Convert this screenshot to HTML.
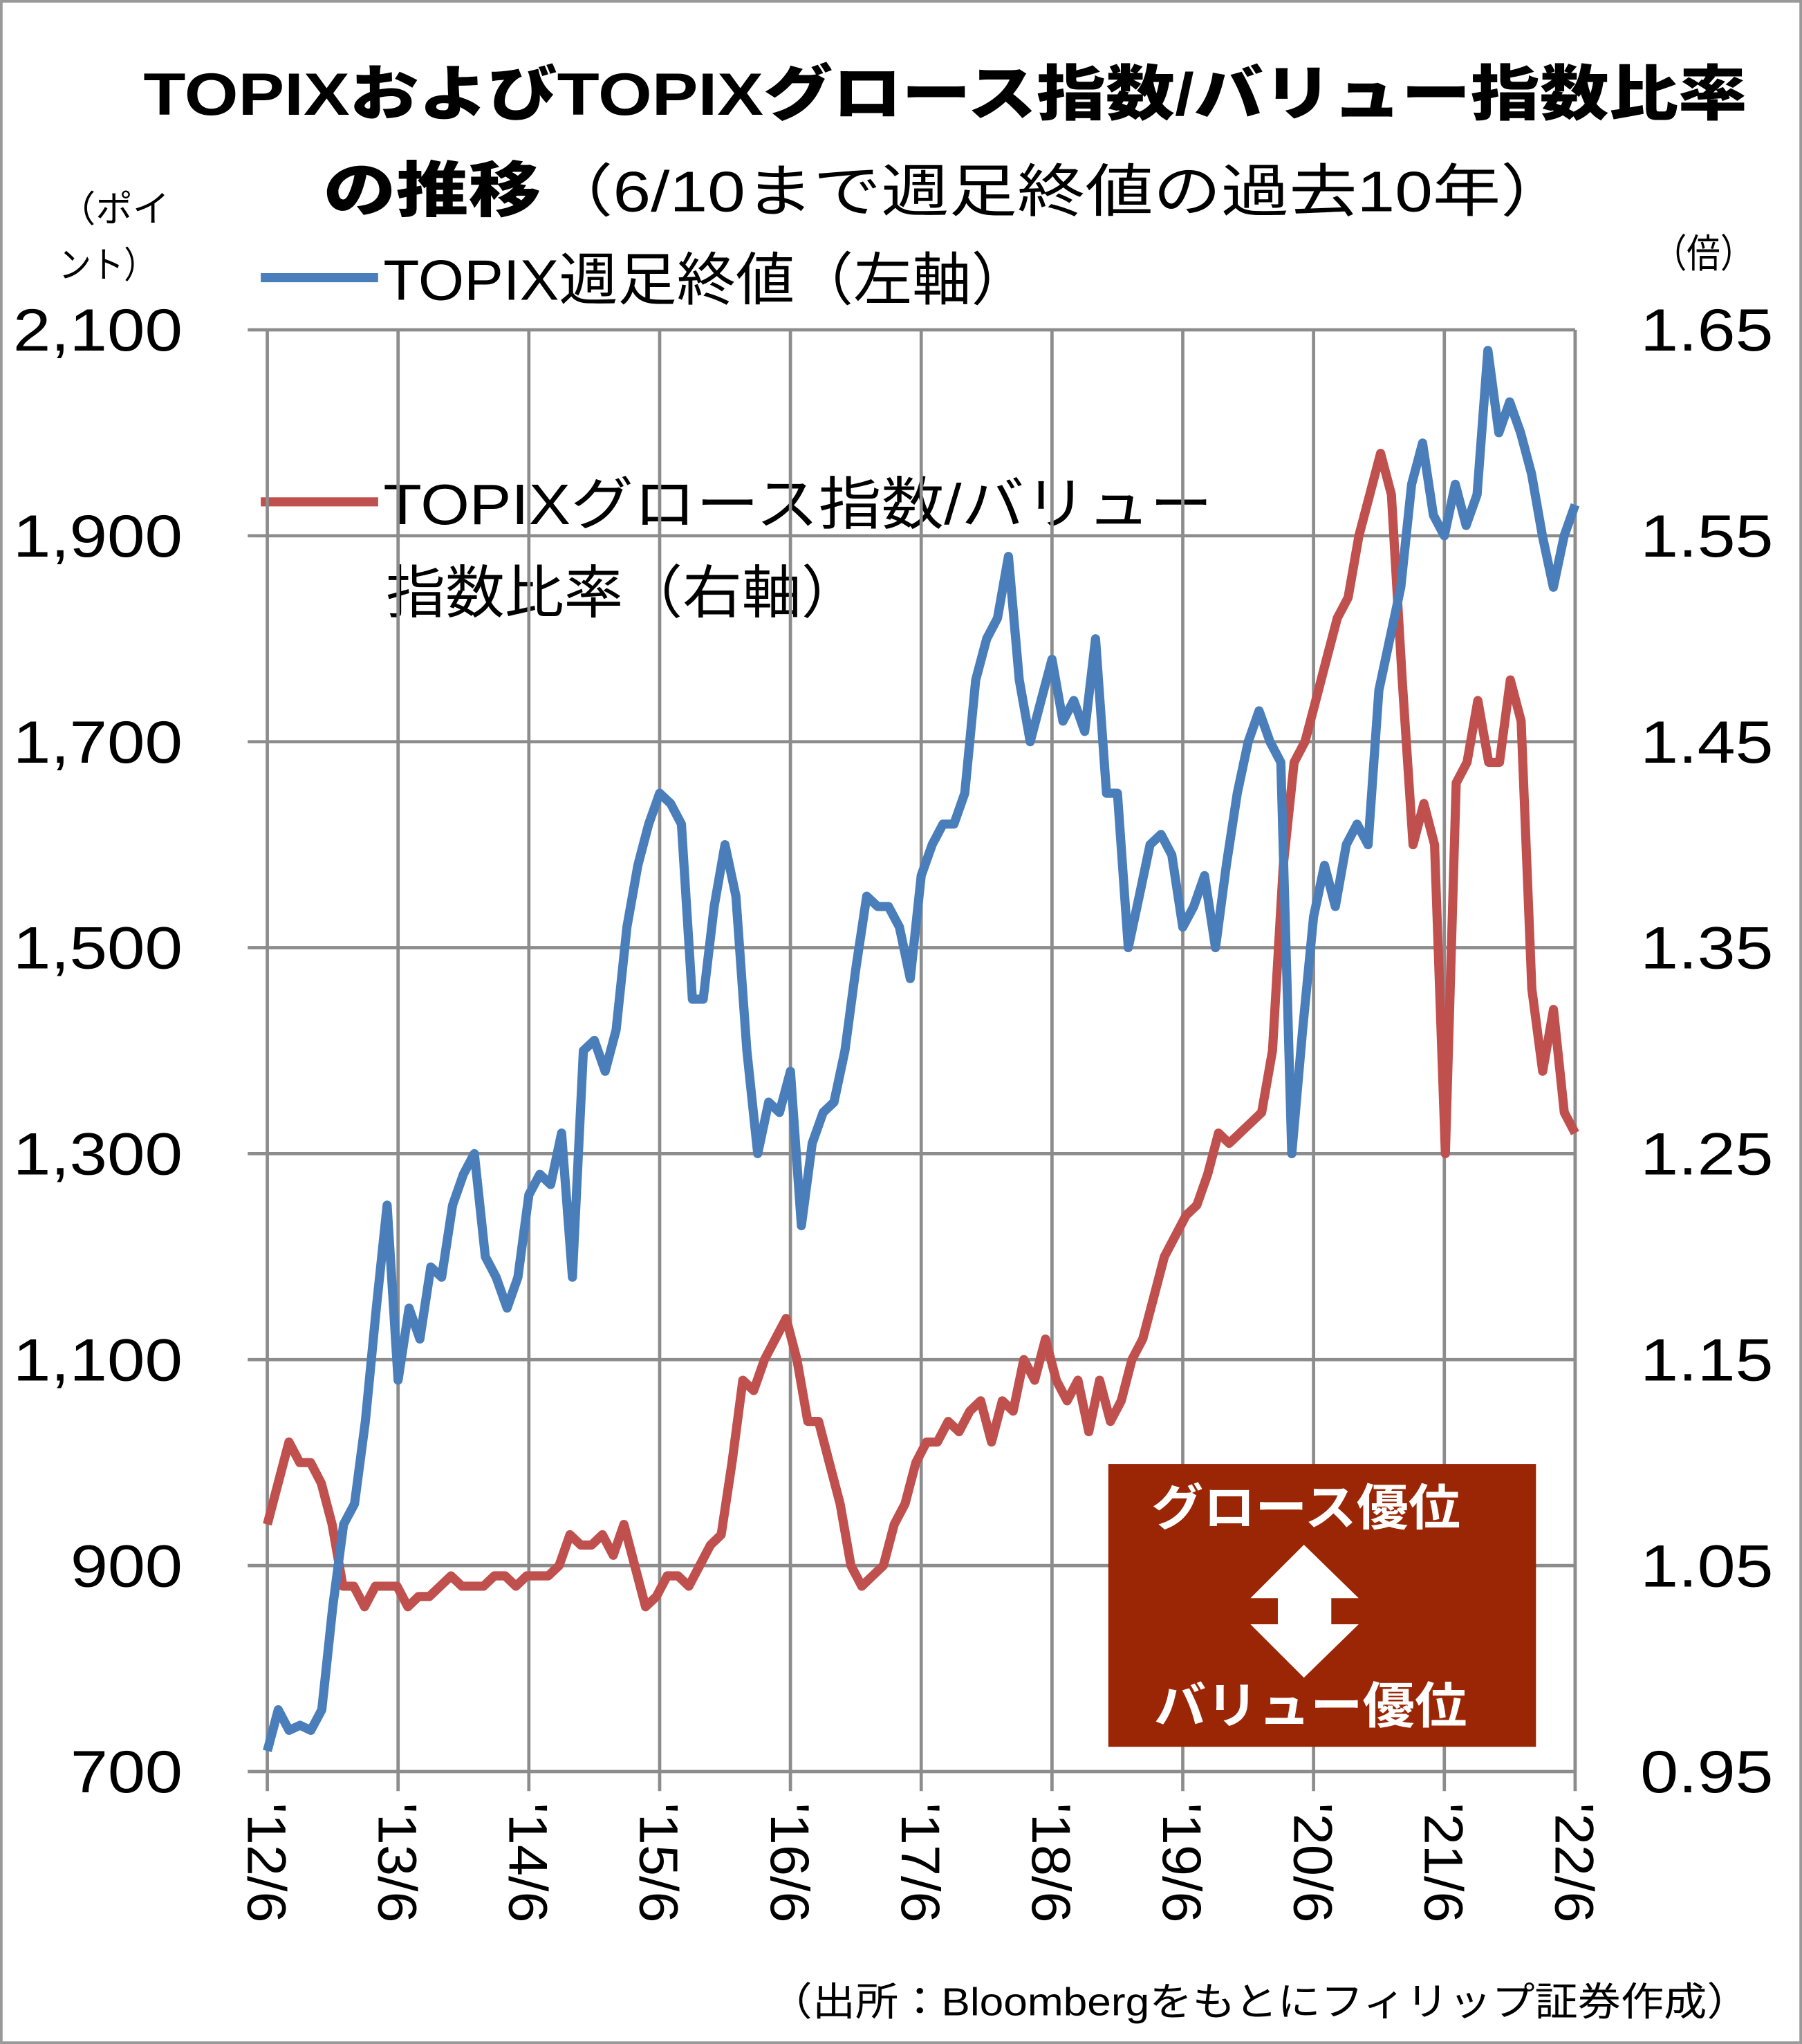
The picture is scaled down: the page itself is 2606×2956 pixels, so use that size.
<!DOCTYPE html>
<html><head><meta charset="utf-8"><style>
html,body{margin:0;padding:0;background:#fff}
svg{display:block}
text{font-family:"Liberation Sans","Noto Sans CJK JP",sans-serif}
</style></head><body>
<svg id="chart" xmlns="http://www.w3.org/2000/svg" width="2606" height="2956" viewBox="0 0 1382 1568" preserveAspectRatio="none">
<rect x="1" y="1" width="1380" height="1566" fill="#fff" stroke="#999" stroke-width="2"/>
<g fill="#000">
<text x="110" y="88" font-size="46" font-weight="900" textLength="1230" lengthAdjust="spacingAndGlyphs">TOPIXおよびTOPIXグロース指数/バリュー指数比率</text>
<text x="248" y="162" font-size="46" font-weight="900" textLength="167" lengthAdjust="spacingAndGlyphs">の推移</text>
<text x="418" y="162" font-size="44" textLength="785" lengthAdjust="spacingAndGlyphs">（6/10まで週足終値の過去10年）</text>
</g>
<g font-size="28" fill="#000">
<text x="45" y="170" textLength="85" lengthAdjust="spacingAndGlyphs">（ポイ</text><text x="45" y="213" textLength="75" lengthAdjust="spacingAndGlyphs">ント）</text>
</g>
<text x="1268" y="205" font-size="30" textLength="77" lengthAdjust="spacingAndGlyphs">（倍）</text>
<g>
<line x1="200" y1="213" x2="290" y2="213" stroke="#4a7ebb" stroke-width="7"/>
<text x="294" y="230" font-size="44" textLength="496" lengthAdjust="spacingAndGlyphs">TOPIX週足終値（左軸）</text>
</g>
<g>
<line x1="200" y1="385" x2="290" y2="385" stroke="#c0504d" stroke-width="7"/>
<text x="294" y="402" font-size="44" textLength="636" lengthAdjust="spacingAndGlyphs">TOPIXグロース指数/バリュー</text>
<text x="296" y="470" font-size="44" textLength="364" lengthAdjust="spacingAndGlyphs">指数比率（右軸）</text>
</g>
<g id="grid"></g><g id="axes"></g><g id="series"></g>
<g>
<rect x="850" y="1123" width="328" height="217" fill="#9b2605"/>
<text x="883" y="1170" font-size="38" font-weight="bold" fill="#fff" textLength="237" lengthAdjust="spacingAndGlyphs">グロース優位</text>
<text x="885" y="1322" font-size="38" font-weight="bold" fill="#fff" textLength="240" lengthAdjust="spacingAndGlyphs">バリュー優位</text>
<polygon points="1000,1185 1042,1226 1021,1226 1021,1246 1042,1246 1000,1287 959,1246 980,1246 980,1226 959,1226" fill="#fff"/>
</g>
<text x="590" y="1546" font-size="30" textLength="752" lengthAdjust="spacingAndGlyphs">（出所：Bloombergをもとにフィリップ証券作成）</text>
</svg>
<script>
const xLabels=["'12/6","'13/6","'14/6","'15/6","'16/6","'17/6","'18/6","'19/6","'20/6","'21/6","'22/6"];
const leftTicks=[700,900,1100,1300,1500,1700,1900,2100];
const leftTickLabels=["700","900","1,100","1,300","1,500","1,700","1,900","2,100"];
const rightTickLabels=["0.95","1.05","1.15","1.25","1.35","1.45","1.55","1.65"];
const topix=[720,760,740,745,740,760,860,940,960,1040,1150,1250,1080,1150,1120,1190,1180,1250,1280,1300,1200,1180,1150,1180,1260,1280,1270,1320,1180,1400,1410,1380,1420,1520,1580,1620,1650,1640,1620,1450,1450,1540,1600,1550,1400,1300,1350,1340,1380,1230,1310,1340,1350,1400,1480,1550,1540,1540,1520,1470,1570,1600,1620,1620,1650,1760,1800,1820,1880,1760,1700,1740,1780,1720,1740,1710,1800,1650,1650,1500,1550,1600,1610,1590,1520,1540,1570,1500,1580,1650,1700,1730,1700,1680,1300,1420,1530,1580,1540,1600,1620,1600,1750,1800,1850,1950,1990,1920,1900,1950,1910,1940,2080,2000,2030,2000,1960,1900,1850,1900,1930];
const ratio=[1.07,1.09,1.11,1.10,1.10,1.09,1.07,1.04,1.04,1.03,1.04,1.04,1.04,1.03,1.035,1.035,1.04,1.045,1.04,1.04,1.04,1.045,1.045,1.04,1.045,1.045,1.045,1.05,1.065,1.06,1.06,1.065,1.055,1.07,1.05,1.03,1.035,1.045,1.045,1.04,1.05,1.06,1.065,1.10,1.14,1.135,1.15,1.16,1.17,1.15,1.12,1.12,1.10,1.08,1.05,1.04,1.045,1.05,1.07,1.08,1.10,1.11,1.11,1.12,1.115,1.125,1.13,1.11,1.13,1.125,1.15,1.14,1.16,1.14,1.13,1.14,1.115,1.14,1.12,1.13,1.15,1.16,1.18,1.20,1.21,1.22,1.225,1.24,1.26,1.255,1.26,1.265,1.27,1.30,1.39,1.44,1.45,1.47,1.49,1.51,1.52,1.55,1.57,1.59,1.57,1.48,1.40,1.42,1.40,1.25,1.43,1.44,1.47,1.44,1.44,1.48,1.46,1.33,1.29,1.32,1.27,1.26];
const NS="http://www.w3.org/2000/svg";
const L=205,R=1208,T=253,B=1359;
const yL=v=>B-(v-700)/1400*(B-T);
const yR=v=>B-(v-0.95)/0.7*(B-T);
const xI=(i,n)=>L+i/(n-1)*(R-L);
const xT=i=>L+i/(xLabels.length-1)*(R-L);
function mk(tag,attrs,parent){const e=document.createElementNS(NS,tag);for(const k in attrs)e.setAttribute(k,attrs[k]);parent.appendChild(e);return e;}
const grid=document.getElementById('grid'),axes=document.getElementById('axes'),series=document.getElementById('series');
leftTicks.forEach((v,i)=>{
 const y=yL(v);
 const g=mk('line',{x1:L,y1:y,x2:R,y2:y,stroke:'#8c8c8c','stroke-width':2.5},grid);
 
 
 const tk=mk('line',{x1:L-15,y1:y,x2:L,y2:y,stroke:'#8c8c8c','stroke-width':2.5},axes);
 
 
 const lab=leftTickLabels[i];
 const w=lab.length===3?86:130;
 const t=mk('text',{x:140-w,y:y+16,'font-size':46,textLength:w,lengthAdjust:'spacingAndGlyphs'},axes);
 t.textContent=lab;
 
 
 const t2=mk('text',{x:1258,y:y+16,'font-size':46,textLength:102,lengthAdjust:'spacingAndGlyphs'},axes);
 t2.textContent=rightTickLabels[i];
 
 
});
xLabels.forEach((s,i)=>{
 const x=xT(i);
 const vl=mk('line',{x1:x,y1:T,x2:x,y2:B+15,stroke:'#8c8c8c','stroke-width':2.5},grid);
 
 
 const t=mk('text',{transform:`translate(${x-15},1383) rotate(90)`,'font-size':42,textLength:92,lengthAdjust:'spacingAndGlyphs'},axes);
 t.textContent=s;
 
 
});
const rl=mk('line',{x1:R,y1:T,x2:R,y2:B,stroke:'#8c8c8c','stroke-width':2.5},axes);


const ratioPath=mk('path',{d:ratio.map((v,i)=>(i?'L':'M')+xI(i,ratio.length).toFixed(1)+','+yR(v).toFixed(1)).join(''),fill:'none',stroke:'#c0504d','stroke-width':7,'stroke-linejoin':'round'},series);


const topixPath=mk('path',{d:topix.map((v,i)=>(i?'L':'M')+xI(i,topix.length).toFixed(1)+','+yL(v).toFixed(1)).join(''),fill:'none',stroke:'#4a7ebb','stroke-width':7,'stroke-linejoin':'round'},series);


</script>
</body></html>
